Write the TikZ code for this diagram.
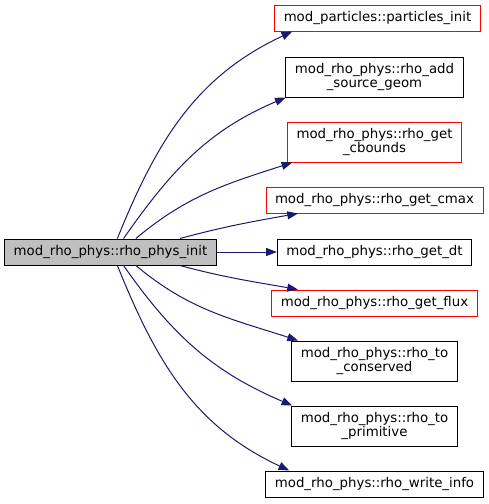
\documentclass[tikz,border=0pt]{standalone}
\usepackage{fontspec}
\setmainfont{DejaVu Sans}
\usetikzlibrary{arrows.meta}
\definecolor{edgeblue}{RGB}{25,25,112}
\definecolor{boxred}{RGB}{255,0,0}
\definecolor{rootgray}{RGB}{191,191,191}

\begin{document}
\begin{tikzpicture}[x=0.75pt,y=-0.75pt,
                    fnND/.style={rectangle,
                                 draw=black,
                                 line width=0.75pt,
                                 fill=white,
                                 font=\fontsize{10}{11}\selectfont,
                                 align=center,
                                 inner xsep=6.75pt,
                                 inner ysep=0pt,
                                 minimum height=19.5pt},
                    twoND/.style={fnND, minimum height=30pt},
                    redND/.style={draw=boxred},
                    rootND/.style={fnND, fill=rootgray},
                    callED/.style={draw=edgeblue,
                                   line width=0.75pt,
                                   -{Triangle[length=8pt,width=6pt]}}]
            \useasboundingbox (0,0) rectangle (489,504);
            \node[rootND](R) at (110.5,252) {mod\_rho\_phys::rho\_phys\_init};
            \node[fnND,redND](P)  at (377.5,18)  {mod\_particles::particles\_init};
            \node[twoND](SG)      at (374.5,77)  {mod\_rho\_phys::rho\_add\\\_source\_geom};
            \node[twoND,redND](CB) at (374.5,142) {mod\_rho\_phys::rho\_get\\\_cbounds};
            \node[fnND,redND](CM) at (374.5,200) {mod\_rho\_phys::rho\_get\_cmax};
            \node[fnND](DT)       at (374.5,252) {mod\_rho\_phys::rho\_get\_dt};
            \node[fnND,redND](FL) at (374.5,303) {mod\_rho\_phys::rho\_get\_flux};
            \node[twoND](CO)      at (374.5,361) {mod\_rho\_phys::rho\_to\\\_conserved};
            \node[twoND](PR)      at (374.5,426) {mod\_rho\_phys::rho\_to\\\_primitive};
            \node[fnND](WI)       at (374.5,484) {mod\_rho\_phys::rho\_write\_info};
            \path
                (R.63)  edge [callED, out=68,  in=205] (P.189)
                (R.46)  edge [callED, out=55,  in=203] (SG.193)
                (R.28)  edge [callED, out=40,  in=198] (CB.194)
                (R.11)  edge [callED, out=15,  in=190] (CM.190)
                (R)     edge [callED]                  (DT)
                (R.-11) edge [callED, out=-15, in=170] (FL.170)
                (R.-28) edge [callED, out=-40, in=162] (CO.165)
                (R.-46) edge [callED, out=-55, in=157] (PR.166)
                (R.-63) edge [callED, out=-68, in=155] (WI.171)
                ;
        \end{tikzpicture}
\end{document}
